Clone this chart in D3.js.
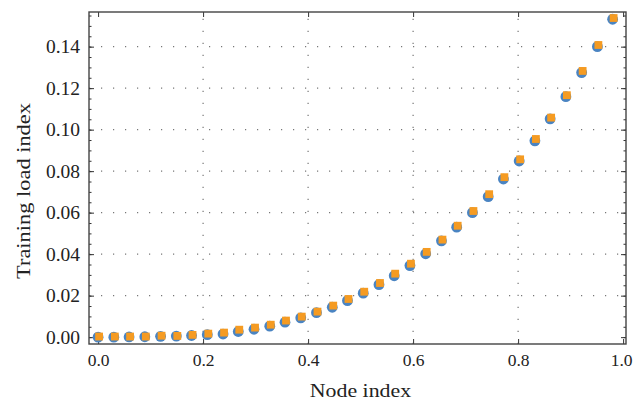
<!DOCTYPE html>
<html>
<head>
<meta charset="utf-8">
<script src="https://cdn.jsdelivr.net/npm/d3@7"></script>
<style>
  html, body { margin: 0; padding: 0; background: #fff; }
  svg { display: block; }
  text { font-family: "Liberation Serif", "DejaVu Serif", serif; fill: #222; }
</style>
</head>
<body>
<svg id="chart" width="633" height="406"></svg>
<script>
// ---- data ----
const nodeIndex = [0.000, 0.030, 0.059, 0.089, 0.119, 0.149, 0.178, 0.208, 0.238, 0.267,
                   0.297, 0.327, 0.356, 0.386, 0.416, 0.446, 0.475, 0.505, 0.535, 0.564,
                   0.594, 0.624, 0.654, 0.683, 0.713, 0.743, 0.772, 0.802, 0.832, 0.861,
                   0.891, 0.921, 0.951, 0.980];
const seriesCircle = [0.0000, 0.0000, 0.0001, 0.0002, 0.0004, 0.0005, 0.0008, 0.0012, 0.0015, 0.0027,
                      0.0038, 0.0053, 0.0072, 0.0093, 0.0118, 0.0144, 0.0176, 0.0212, 0.0253, 0.0296,
                      0.0345, 0.0402, 0.0464, 0.0530, 0.0600, 0.0677, 0.0762, 0.0849, 0.0946, 0.1052,
                      0.1159, 0.1275, 0.1400, 0.1532];
const seriesSquare = [0.0003, 0.0003, 0.0003, 0.0003, 0.0007, 0.0006, 0.0011, 0.0017, 0.0022, 0.0036,
                      0.0046, 0.0060, 0.0080, 0.0099, 0.0123, 0.0152, 0.0184, 0.0219, 0.0261, 0.0306,
                      0.0354, 0.0411, 0.0470, 0.0537, 0.0608, 0.0689, 0.0771, 0.0857, 0.0955, 0.1058,
                      0.1166, 0.1283, 0.1408, 0.1538];
const xTicks = [0.0, 0.2, 0.4, 0.6, 0.8, 1.0];
const yTicks = [0.00, 0.02, 0.04, 0.06, 0.08, 0.10, 0.12, 0.14];
const yMinorTicks = d3.range(0, 0.1551, 0.005);
const xLabel = "Node index";
const yLabel = "Training load index";

// ---- layout ----
const svg = d3.select("#chart");
const L = 89, R = 626, T = 12, B = 344;
const x = d3.scaleLinear().domain([-0.0173, 1.0055]).range([L, R]);
const y = d3.scaleLinear().domain([-0.0033, 0.1567]).range([B, T]);

// grid (dotted)
const grid = svg.append("g");
grid.selectAll("line.gx").data(xTicks.filter(t => t > 0 && t < 1)).join("line")
  .attr("x1", d => x(d)).attr("x2", d => x(d)).attr("y1", B).attr("y2", T)
  .attr("stroke", "#777").attr("stroke-width", 1.2).attr("stroke-dasharray", "1.2,10.8");
grid.selectAll("line.gy").data(yTicks.filter(t => t > 0)).join("line")
  .attr("y1", d => y(d)).attr("y2", d => y(d)).attr("x1", L).attr("x2", R)
  .attr("stroke", "#777").attr("stroke-width", 1.2).attr("stroke-dasharray", "1.2,10.8")
  .attr("stroke-dashoffset", -12);

// axes with inward ticks
const fmt = d3.format(".2f");
const axL = d3.axisLeft(y).tickValues(yTicks).tickSizeInner(-5).tickSizeOuter(0).tickPadding(9).tickFormat(fmt);
const axR = d3.axisRight(y).tickValues(yTicks).tickSizeInner(-5).tickSizeOuter(0).tickFormat("");
const axB = d3.axisBottom(x).tickValues(xTicks).tickSizeInner(-5).tickSizeOuter(0).tickPadding(10).tickFormat(d3.format(".1f"));
const axT = d3.axisTop(x).tickValues(xTicks).tickSizeInner(-5).tickSizeOuter(0).tickFormat("");
const mL = d3.axisLeft(y).tickValues(yMinorTicks).tickSizeInner(-2.5).tickSizeOuter(0).tickFormat("");
const mR = d3.axisRight(y).tickValues(yMinorTicks).tickSizeInner(-2.5).tickSizeOuter(0).tickFormat("");

function style(size) {
  return g => {
    g.select(".domain").remove();
    g.selectAll(".tick line").attr("stroke", "#333").attr("stroke-width", 1);
    g.selectAll(".tick text").attr("font-size", size).attr("fill", "#222")
      .style("font-family", '"Liberation Serif", "DejaVu Serif", serif');
  };
}
svg.append("g").attr("transform", `translate(${L},0)`).call(mL).call(style(19));
svg.append("g").attr("transform", `translate(${R},0)`).call(mR).call(style(19));
svg.append("g").attr("transform", `translate(${L},0)`).call(axL).call(style(19.5));
svg.append("g").attr("transform", `translate(${R},0)`).call(axR).call(style(19));
const gB = svg.append("g").attr("transform", `translate(0,${B})`).call(axB).call(style(17.5));
gB.selectAll(".tick text").filter(d => d === 1).attr("dx", -2);
svg.append("g").attr("transform", `translate(0,${T})`).call(axT).call(style(18));

// frame
svg.append("rect").attr("x", L).attr("y", T).attr("width", R - L).attr("height", B - T)
  .attr("fill", "none").attr("stroke", "#444").attr("stroke-width", 1.4);

// markers
const pts = nodeIndex.map((v, i) => ({ x: v, c: seriesCircle[i], s: seriesSquare[i] }));
svg.append("g").selectAll("circle").data(pts).join("circle")
  .attr("cx", d => x(d.x)).attr("cy", d => y(d.c)).attr("r", 5.4)
  .attr("fill", "#4a84c2");
const sq = 7.8;
svg.append("g").selectAll("rect").data(pts).join("rect")
  .attr("x", d => x(d.x) + 1 - sq / 2).attr("y", d => y(d.s) - sq / 2)
  .attr("width", sq).attr("height", sq).attr("fill", "#f59b22");

// axis titles (slightly widened serif to match the reference face)
svg.append("text").attr("transform", `translate(${(L + R) / 2 + 3},397) scale(1.15,1)`)
  .attr("text-anchor", "middle").attr("font-size", 19).text(xLabel);
svg.append("text").attr("transform", `translate(30,191) rotate(-90) scale(1.18,1)`)
  .attr("text-anchor", "middle").attr("font-size", 19).text(yLabel);
</script>
</body>
</html>
